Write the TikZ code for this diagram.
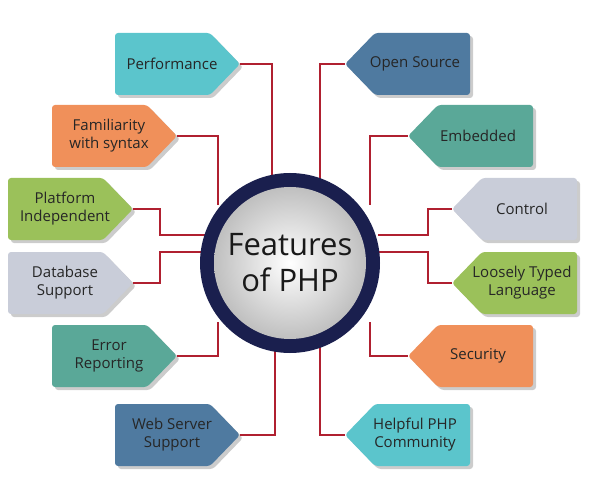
\documentclass[tikz,border=0pt]{standalone}
\usepackage{fontspec}
\setmainfont{Open Sans}
\usetikzlibrary{calc}
\definecolor{cTeal}{HTML}{5BC5CC}
\definecolor{cOrange}{HTML}{F0905A}
\definecolor{cGreen}{HTML}{9BC15A}
\definecolor{cGray}{HTML}{C9CDD9}
\definecolor{cSea}{HTML}{5AA898}
\definecolor{cBlue}{HTML}{4F7AA0}
\definecolor{cLine}{HTML}{B02030}
\definecolor{cNavy}{HTML}{1A1F4E}
\tikzset{
  conn/.style={draw=cLine,line width=1.2pt},
  lbl/.style={font=\fontsize{15}{18}\selectfont,align=center,text=black!85},
}
\newcommand{\lbox}[5]{%
  \fill[black!20,rounded corners=3pt] (#1+3,#2+3) -- (#1+98,#2+3) -- (#1+128,#2+34) -- (#1+98,#2+65) -- (#1+3,#2+65) -- cycle;
  \fill[#3,rounded corners=3pt] (#1,#2) -- (#1+95,#2) -- (#1+125,#2+31) -- (#1+95,#2+62) -- (#1,#2+62) -- cycle;
  \node[lbl] (#4) at (#1+57,#2+31) {#5};
  \coordinate (#4t) at (#1+125,#2+31);}
\newcommand{\rbox}[5]{%
  \fill[black!20,rounded corners=3pt] (#1+33,#2+3) -- (#1+128,#2+3) -- (#1+128,#2+65) -- (#1+33,#2+65) -- (#1+3,#2+34) -- cycle;
  \fill[#3,rounded corners=3pt] (#1+30,#2) -- (#1+125,#2) -- (#1+125,#2+62) -- (#1+30,#2+62) -- (#1,#2+31) -- cycle;
  \node[lbl] (#4) at (#1+70,#2+31) {#5};
  \coordinate (#4t) at (#1,#2+31);}
\begin{document}
\begin{tikzpicture}[x=1pt,y=-1pt]
\useasboundingbox (0,0) rectangle (600,500);
\coordinate (c) at (290,263);
\coordinate (aPerf) at (272,185);
\coordinate (aFam) at (218,205);
\coordinate (aPlat) at (205,235);
\coordinate (aDb) at (205,252);
\coordinate (aErr) at (218,322);
\coordinate (aWeb) at (275,345);
\coordinate (aOpen) at (320,185);
\coordinate (aEmb) at (370,205);
\coordinate (aCtl) at (378,235);
\coordinate (aLoose) at (378,252);
\coordinate (aSec) at (370,322);
\coordinate (aHelp) at (320,345);
\lbox{115}{33}{cTeal}{perf}{Performance}
\lbox{52}{105}{cOrange}{fam}{Familiarity\\with syntax}
\lbox{8}{178}{cGreen}{plat}{Platform\\Independent}
\lbox{8}{252}{cGray}{db}{Database\\Support}
\lbox{52}{325}{cSea}{err}{Error\\Reporting}
\lbox{115}{404}{cBlue}{web}{Web Server\\Support}
\rbox{345}{33}{cBlue}{open}{Open Source}
\rbox{408}{105}{cSea}{emb}{Embedded}
\rbox{452}{178}{cGray}{ctl}{Control}
\rbox{452}{252}{cGreen}{loose}{Loosely Typed\\Language}
\rbox{408}{325}{cOrange}{sec}{Security}
\rbox{345}{404}{cTeal}{help}{Helpful PHP\\Community}
\draw[conn] (perft) -| (aPerf);
\draw[conn] (famt) -| (aFam);
\draw[conn] (platt) -- ++(27,0) |- (aPlat);
\draw[conn] (dbt) -- ++(27,0) |- (aDb);
\draw[conn] (errt) -| (aErr);
\draw[conn] (webt) -| (aWeb);
\draw[conn] (opent) -| (aOpen);
\draw[conn] (embt) -| (aEmb);
\draw[conn] (ctlt) -- ++(-24,0) |- (aCtl);
\draw[conn] (looset) -- ++(-24,0) |- (aLoose);
\draw[conn] (sect) -| (aSec);
\draw[conn] (helpt) -| (aHelp);
\fill[cNavy] (c) circle (90);
\shade[inner color=white,outer color=black!25] (c) circle (76);
\node[font=\fontsize{31}{36}\selectfont,align=center,text=black!90] (title) at (c) {Features\\of PHP};
\end{tikzpicture}
\end{document}
